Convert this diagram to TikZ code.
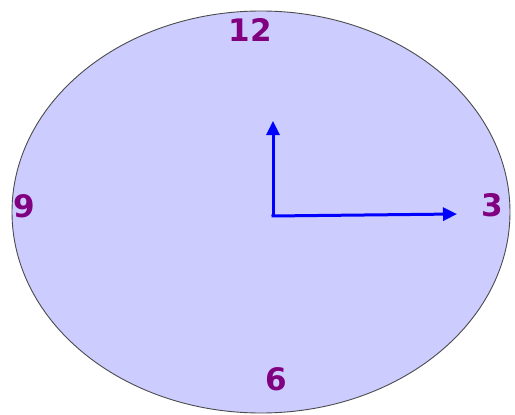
\documentclass[tikz,border=0pt]{standalone}
\usepackage{fontspec}
\setmainfont{DejaVu Sans}
\usetikzlibrary{arrows.meta}
\definecolor{face}{HTML}{CCCCFF}
\definecolor{numcol}{HTML}{800080}
\definecolor{handcol}{HTML}{0000FF}
\begin{document}
\begin{tikzpicture}[x=1pt,y=-1pt,
  num/.style={text=numcol,font=\fontsize{31}{31}\selectfont\bfseries,inner sep=0pt,anchor=center},
  hand/.style={draw=handcol,line width=3pt,-{Triangle[length=14pt,width=13pt]}}]
\useasboundingbox (0,0) rectangle (515,415);
\fill[white] (0,0) rectangle (515,415);
\draw[fill=face,draw=black!70,line width=0.9pt] (261,212) ellipse [x radius=249, y radius=201];
\node[num] (n12) at (250,30) {12};
\node[num] (n3) at (492,205) {3};
\node[num] (n6) at (276,379) {6};
\node[num] (n9) at (24,206) {9};
\coordinate (c) at (273,216);
\coordinate (up) at (273,121);
\coordinate (right) at (457,214);
\draw[hand] ([yshift=1.5pt]c) -- (up);
\draw[hand] ([xshift=-1.5pt]c) -- (right);
\end{tikzpicture}
\end{document}
